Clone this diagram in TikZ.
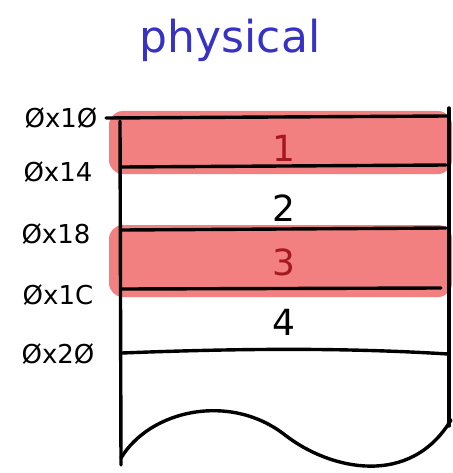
\documentclass[tikz,border=0pt]{standalone}
\usepackage{fontspec}
\setmainfont{DejaVu Sans}
\usetikzlibrary{positioning}
\definecolor{slotpink}{RGB}{243,128,128}
\definecolor{slotred}{RGB}{165,25,30}
\definecolor{inkblue}{RGB}{55,50,195}

\begin{document}
\begin{tikzpicture}[x=1pt,y=-1pt,line width=3.4pt,line cap=round,
  addr/.style={font=\fontsize{26}{28}\selectfont,anchor=center},
  slotnum/.style={font=\fontsize{36}{38}\selectfont,anchor=center}]
\useasboundingbox (0,0) rectangle (452,473);
% highlighted slots 1 and 3
\fill [slotpink, rounded corners=14pt] (109,111) rectangle (452,174);
\fill [slotpink, rounded corners=14pt] (109,225) rectangle (452,297);
% frame of the memory
\draw (120,121) -- (121,465);
\draw (449,108) -- (449,426);
\draw (106,118) -- (447,116);
\draw (122,167) -- (446,165);
\draw (122,230) -- (446,228);
\draw (122,289) -- (441,288);
\draw (122,353) .. controls (250,348) and (350,348) .. (448,354);
% torn bottom edge
\draw (121,458) .. controls (150,410) and (230,392) .. (285,435)
      .. controls (330,470) and (410,488) .. (451,420);
% addresses
\node [addr] (a10) at (61,118) {Øx1Ø};
\node [addr] (a14) at (58,172) {Øx14};
\node [addr] (a18) at (56,234) {Øx18};
\node [addr] (a1c) at (58,295) {Øx1C};
\node [addr] (a20) at (58,354) {Øx2Ø};
% slot numbers
\node [slotnum, text=slotred] (s1) at (284,148) {1};
\node [slotnum] (s2) at (284,208) {2};
\node [slotnum, text=slotred] (s3) at (284,262) {3};
\node [slotnum] (s4) at (284,322) {4};
% title
\node [font=\fontsize{44}{46}\selectfont, text=inkblue] (title) at (230,40) {physical};
\end{tikzpicture}
\end{document}
